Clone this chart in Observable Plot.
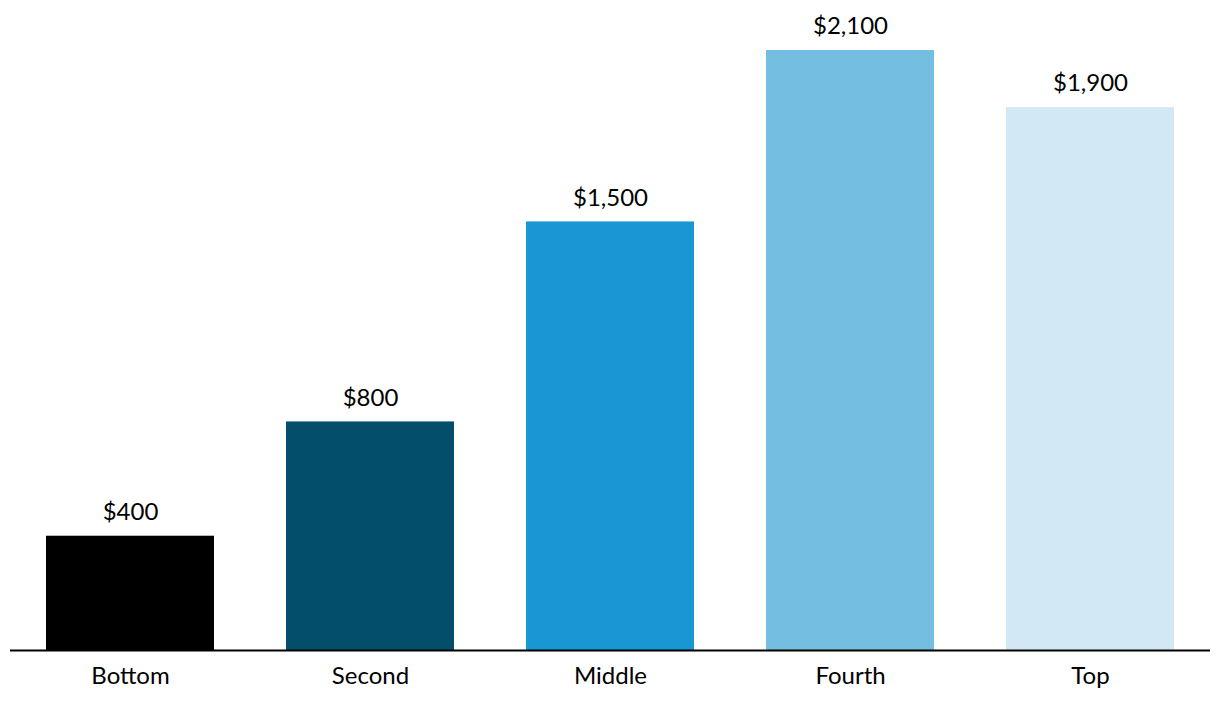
<!DOCTYPE html>
<html>
<head>
<meta charset="utf-8">
<script src="https://cdn.jsdelivr.net/npm/d3@7"></script>
<script src="https://cdn.jsdelivr.net/npm/@observablehq/plot@0.6"></script>
<style>
  html, body { margin: 0; padding: 0; background: #fff; }
  svg { font-family: Lato, "Open Sans", sans-serif; }
</style>
</head>
<body>
<div id="chart"></div>
<script>
const categories = ["Bottom", "Second", "Middle", "Fourth", "Top"];
const values = [400, 800, 1500, 2100, 1900];
const colors = ["#000000", "#034e6b", "#1897d4", "#74bee1", "#d2e8f4"];

const data = categories.map((c, i) => ({category: c, value: values[i], color: colors[i]}));
const fmt = v => "$" + d3.format(",")(v);

const chart = Plot.plot({
  width: 1220,
  height: 706,
  marginLeft: 10,
  marginRight: 10,
  marginTop: 50,
  marginBottom: 56,
  style: {fontFamily: "Lato, 'Open Sans', sans-serif", fontSize: "24px", color: "#000", background: "#fff"},
  x: {domain: categories, paddingInner: 0.3, paddingOuter: 0.15, axis: null},
  y: {domain: [0, 2100], axis: null},
  marks: [
    Plot.barY(data, {x: "category", y: "value", fill: "color"}),
    Plot.ruleY([0], {stroke: "#000", strokeWidth: 2}),
    Plot.text(data, {x: "category", y: "value", text: d => fmt(d.value), dy: -24, lineAnchor: "middle", fontSize: 24, fill: "#000"}),
    Plot.text(data, {x: "category", y: 0, text: "category", dy: 26, lineAnchor: "middle", fontSize: 24, fill: "#000"})
  ]
});
document.getElementById("chart").appendChild(chart);
</script>
</body>
</html>
